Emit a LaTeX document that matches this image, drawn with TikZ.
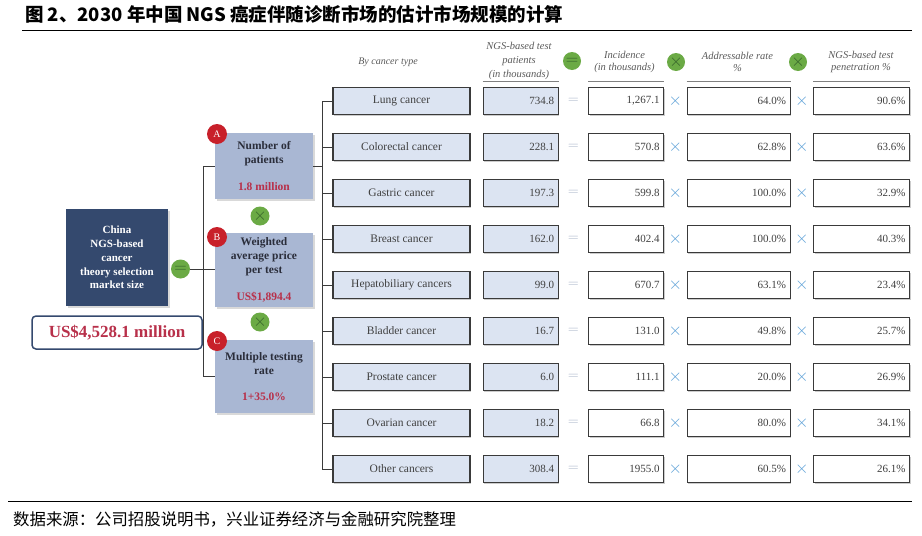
\documentclass[tikz,border=0pt]{standalone}
\usepackage{fontspec}
\setmainfont{Liberation Serif}
\newfontfamily\cjk{Noto Sans CJK SC}
\usetikzlibrary{positioning,shadows}

\definecolor{navy}{HTML}{34496E}
\definecolor{boxblue}{HTML}{A9B7D3}
\definecolor{typefill}{HTML}{DCE4F2}
\definecolor{boxline}{HTML}{3A3A3A}
\definecolor{numred}{HTML}{B8304A}
\definecolor{badgered}{HTML}{C8202A}
\definecolor{opgreen}{HTML}{6BAA45}
\definecolor{opdark}{HTML}{35622A}
\definecolor{eqgray}{HTML}{A9B5C9}
\definecolor{timesblue}{HTML}{5A9FD6}
\definecolor{txtgray}{HTML}{404040}
\definecolor{txtdark}{HTML}{2A2D3A}
\definecolor{headgray}{HTML}{5A5A5A}

\tikzset{
  typebox/.style={draw=boxline, line width=1.1pt, fill=typefill,
    minimum width=137pt, minimum height=27pt, inner sep=0pt,
    text=txtgray, font=\fontsize{11.5}{13}\selectfont,
    drop shadow={shadow xshift=1.2pt, shadow yshift=-1.2pt, opacity=0.4}},
  valbox/.style={typebox, minimum width=0pt, inner xsep=4pt,
    text width=67pt, align=right, font=\fontsize{11}{13}\selectfont},
  numbox/.style={valbox, fill=white, text width=#1},
  eqsign/.style={minimum width=29pt, minimum height=27pt, inner sep=0pt,
    text=eqgray, font=\fontsize{15}{15}\selectfont},
  timessign/.style={eqsign, minimum width=22pt, text=timesblue,
    font=\fontsize{19}{19}\selectfont},
  factorbox/.style={fill=boxblue, minimum width=98pt, inner sep=0pt,
    align=center, text=txtdark, font=\bfseries\fontsize{11.5}{14}\selectfont,
    drop shadow={shadow xshift=1.5pt, shadow yshift=-1.5pt, opacity=0.3}},
  badge/.style={circle, fill=badgered, text=white, minimum size=20pt,
    inner sep=0pt, font=\fontsize{10}{10}\selectfont},
  greencirc/.style={circle, fill=opgreen, minimum size=19pt, inner sep=0pt,
    text=opdark, font=\fontsize{16}{16}\selectfont},
  headtext/.style={text=headgray, align=center, inner sep=0pt,
    font=\itshape\fontsize{10.5}{12.5}\selectfont},
  link/.style={draw=boxline, line width=0.8pt},
  underline/.style={draw=gray, line width=0.8pt}
}

\begin{document}
\begin{tikzpicture}[x=1pt, y=-1pt]
  \useasboundingbox (0,0) rectangle (922,536);

  % Title and source
  \node[anchor=west, inner sep=0pt, font=\cjk\bfseries\fontsize{18.5}{18.5}\selectfont]
    (title) at (25,14) {图 2、2030 年中国 NGS 癌症伴随诊断市场的估计市场规模的计算};
  \draw[line width=1.2pt] (22,30.5) -- (912,30.5);
  \draw[line width=1.2pt] (8,501.5) -- (912,501.5);
  \node[anchor=west, inner sep=0pt, font=\cjk\fontsize{16.4}{16.4}\selectfont]
    (source) at (13,519) {数据来源：公司招股说明书，兴业证券经济与金融研究院整理};

  % Market size and factors
  \node[fill=navy, text=white, minimum width=102pt, minimum height=97pt,
    inner sep=0pt, align=center, font=\bfseries\fontsize{11}{13.75}\selectfont,
    drop shadow={shadow xshift=1.5pt, shadow yshift=-1.5pt, opacity=0.3}]
    (mktsize) at (117,257.5) {China\\NGS-based\\cancer\\theory selection\\market size};
  \node[greencirc] (eqmain) at (180.5,269) {$=$};
  \node[draw=navy, line width=1.5pt, rounded corners=4pt, fill=white,
    minimum width=170pt, minimum height=33pt, inner sep=0pt,
    text=numred, font=\bfseries\fontsize{17}{17}\selectfont]
    (result) at (117,332.5) {US\$4,528.1 million};

  \node[factorbox, minimum height=66pt] (patients) at (264,166)
    {Number of\\patients\\[13pt]{\color{numred}1.8 million}};
  \node[factorbox, minimum height=74pt] (price) at (264,270)
    {Weighted\\average price\\per test\\[13pt]{\color{numred}US\$1,894.4}};
  \node[factorbox, minimum height=73pt] (rate) at (264,376.5)
    {Multiple testing\\rate\\[12pt]{\color{numred}1+35.0\%}};
  \node[badge] (bada) at (217,134) {A};
  \node[badge] (badb) at (217,237) {B};
  \node[badge] (badc) at (217,341) {C};
  \node[greencirc] (multab) at (260,216) {$\times$};
  \node[greencirc] (multbc) at (260,322) {$\times$};

  % Column headers
  \node[headtext, font=\itshape\fontsize{10}{12}\selectfont] (hbytype) at (388,62) {By cancer type};
  \node[headtext, font=\itshape\fontsize{10.5}{14}\selectfont] (hpat) at (519,61)
    {NGS-based test\\patients\\(in thousands)};
  \node[greencirc, minimum size=18pt] (heq) at (572,61) {$=$};
  \node[headtext] (hinc) at (624.5,62) {Incidence\\(in thousands)};
  \node[greencirc, minimum size=18pt] (hx) at (676,62) {$\times$};
  \node[headtext] (hadd) at (737.5,62) {Addressable rate\\\%};
  \node[greencirc, minimum size=18pt] (hy) at (798,62) {$\times$};
  \node[headtext] (hpen) at (861,62) {NGS-based test\\penetration \%};

  % Rows by cancer type
  \node[typebox] (lung) at (401.5,101) {Lung cancer};
  \node[valbox, right=12pt of lung] (lungn) {734.8};
  \node[eqsign, right=0pt of lungn] (lungeq) {$=$};
  \node[numbox=67pt, right=0pt of lungeq] (lungi) {1,267.1};
  \node[timessign, right=0pt of lungi] (lungx) {$\times$};
  \node[numbox=95pt, right=0pt of lungx] (lunga) {64.0\%};
  \node[timessign, right=0pt of lunga] (lungy) {$\times$};
  \node[numbox=88pt, right=0pt of lungy] (lungp) {90.6\%};

  \node[typebox] (colo) at (401.5,147) {Colorectal cancer};
  \node[valbox, right=12pt of colo] (colon) {228.1};
  \node[eqsign, right=0pt of colon] (coloeq) {$=$};
  \node[numbox=67pt, right=0pt of coloeq] (coloi) {570.8};
  \node[timessign, right=0pt of coloi] (colox) {$\times$};
  \node[numbox=95pt, right=0pt of colox] (coloa) {62.8\%};
  \node[timessign, right=0pt of coloa] (coloy) {$\times$};
  \node[numbox=88pt, right=0pt of coloy] (colop) {63.6\%};

  \node[typebox] (gast) at (401.5,193) {Gastric cancer};
  \node[valbox, right=12pt of gast] (gastn) {197.3};
  \node[eqsign, right=0pt of gastn] (gasteq) {$=$};
  \node[numbox=67pt, right=0pt of gasteq] (gasti) {599.8};
  \node[timessign, right=0pt of gasti] (gastx) {$\times$};
  \node[numbox=95pt, right=0pt of gastx] (gasta) {100.0\%};
  \node[timessign, right=0pt of gasta] (gasty) {$\times$};
  \node[numbox=88pt, right=0pt of gasty] (gastp) {32.9\%};

  \node[typebox] (brea) at (401.5,239) {Breast cancer};
  \node[valbox, right=12pt of brea] (brean) {162.0};
  \node[eqsign, right=0pt of brean] (breaeq) {$=$};
  \node[numbox=67pt, right=0pt of breaeq] (breai) {402.4};
  \node[timessign, right=0pt of breai] (breax) {$\times$};
  \node[numbox=95pt, right=0pt of breax] (breaa) {100.0\%};
  \node[timessign, right=0pt of breaa] (breay) {$\times$};
  \node[numbox=88pt, right=0pt of breay] (breap) {40.3\%};

  \node[typebox] (hepa) at (401.5,285) {Hepatobiliary cancers};
  \node[valbox, right=12pt of hepa] (hepan) {99.0};
  \node[eqsign, right=0pt of hepan] (hepaeq) {$=$};
  \node[numbox=67pt, right=0pt of hepaeq] (hepai) {670.7};
  \node[timessign, right=0pt of hepai] (hepax) {$\times$};
  \node[numbox=95pt, right=0pt of hepax] (hepaa) {63.1\%};
  \node[timessign, right=0pt of hepaa] (hepay) {$\times$};
  \node[numbox=88pt, right=0pt of hepay] (hepap) {23.4\%};

  \node[typebox] (blad) at (401.5,331) {Bladder cancer};
  \node[valbox, right=12pt of blad] (bladn) {16.7};
  \node[eqsign, right=0pt of bladn] (bladeq) {$=$};
  \node[numbox=67pt, right=0pt of bladeq] (bladi) {131.0};
  \node[timessign, right=0pt of bladi] (bladx) {$\times$};
  \node[numbox=95pt, right=0pt of bladx] (blada) {49.8\%};
  \node[timessign, right=0pt of blada] (blady) {$\times$};
  \node[numbox=88pt, right=0pt of blady] (bladp) {25.7\%};

  \node[typebox] (pros) at (401.5,377) {Prostate cancer};
  \node[valbox, right=12pt of pros] (prosn) {6.0};
  \node[eqsign, right=0pt of prosn] (proseq) {$=$};
  \node[numbox=67pt, right=0pt of proseq] (prosi) {111.1};
  \node[timessign, right=0pt of prosi] (prosx) {$\times$};
  \node[numbox=95pt, right=0pt of prosx] (prosa) {20.0\%};
  \node[timessign, right=0pt of prosa] (prosy) {$\times$};
  \node[numbox=88pt, right=0pt of prosy] (prosp) {26.9\%};

  \node[typebox] (ovar) at (401.5,423) {Ovarian cancer};
  \node[valbox, right=12pt of ovar] (ovarn) {18.2};
  \node[eqsign, right=0pt of ovarn] (ovareq) {$=$};
  \node[numbox=67pt, right=0pt of ovareq] (ovari) {66.8};
  \node[timessign, right=0pt of ovari] (ovarx) {$\times$};
  \node[numbox=95pt, right=0pt of ovarx] (ovara) {80.0\%};
  \node[timessign, right=0pt of ovara] (ovary) {$\times$};
  \node[numbox=88pt, right=0pt of ovary] (ovarp) {34.1\%};

  \node[typebox] (othe) at (401.5,469) {Other cancers};
  \node[valbox, right=12pt of othe] (othen) {308.4};
  \node[eqsign, right=0pt of othen] (otheeq) {$=$};
  \node[numbox=67pt, right=0pt of otheeq] (othei) {1955.0};
  \node[timessign, right=0pt of othei] (othex) {$\times$};
  \node[numbox=95pt, right=0pt of othex] (othea) {60.5\%};
  \node[timessign, right=0pt of othea] (othey) {$\times$};
  \node[numbox=88pt, right=0pt of othey] (othep) {26.1\%};

  % Header rules
  \draw[underline] ([yshift=6pt]lungn.north west) -- ([yshift=6pt]lungn.north east);
  \draw[underline] ([yshift=6pt]lungi.north west) -- ([yshift=6pt]lungi.north east);
  \draw[underline] ([yshift=6pt]lunga.north west) -- ([yshift=6pt]lunga.north east);
  \draw[underline] ([yshift=6pt]lungp.north west) -- ([yshift=6pt]lungp.north east);

  % Connect the boxes
  \coordinate (lbr) at (203,0);
  \coordinate (rbr) at (322,0);
  \draw[link] (eqmain.east) -- (eqmain.east -| price.west);
  \draw[link] (patients.west) -- (patients.west -| lbr) -- (rate.west -| lbr) -- (rate.west);
  \draw[link] (patients.east) -- (patients.east -| rbr);
  \draw[link] (lung.west) -- (lung.west -| rbr) -- (othe.west -| rbr) -- (othe.west);
  \draw[link] (colo.west) -- (colo.west -| rbr);
  \draw[link] (gast.west) -- (gast.west -| rbr);
  \draw[link] (brea.west) -- (brea.west -| rbr);
  \draw[link] (hepa.west) -- (hepa.west -| rbr);
  \draw[link] (blad.west) -- (blad.west -| rbr);
  \draw[link] (pros.west) -- (pros.west -| rbr);
  \draw[link] (ovar.west) -- (ovar.west -| rbr);
\end{tikzpicture}
\end{document}
